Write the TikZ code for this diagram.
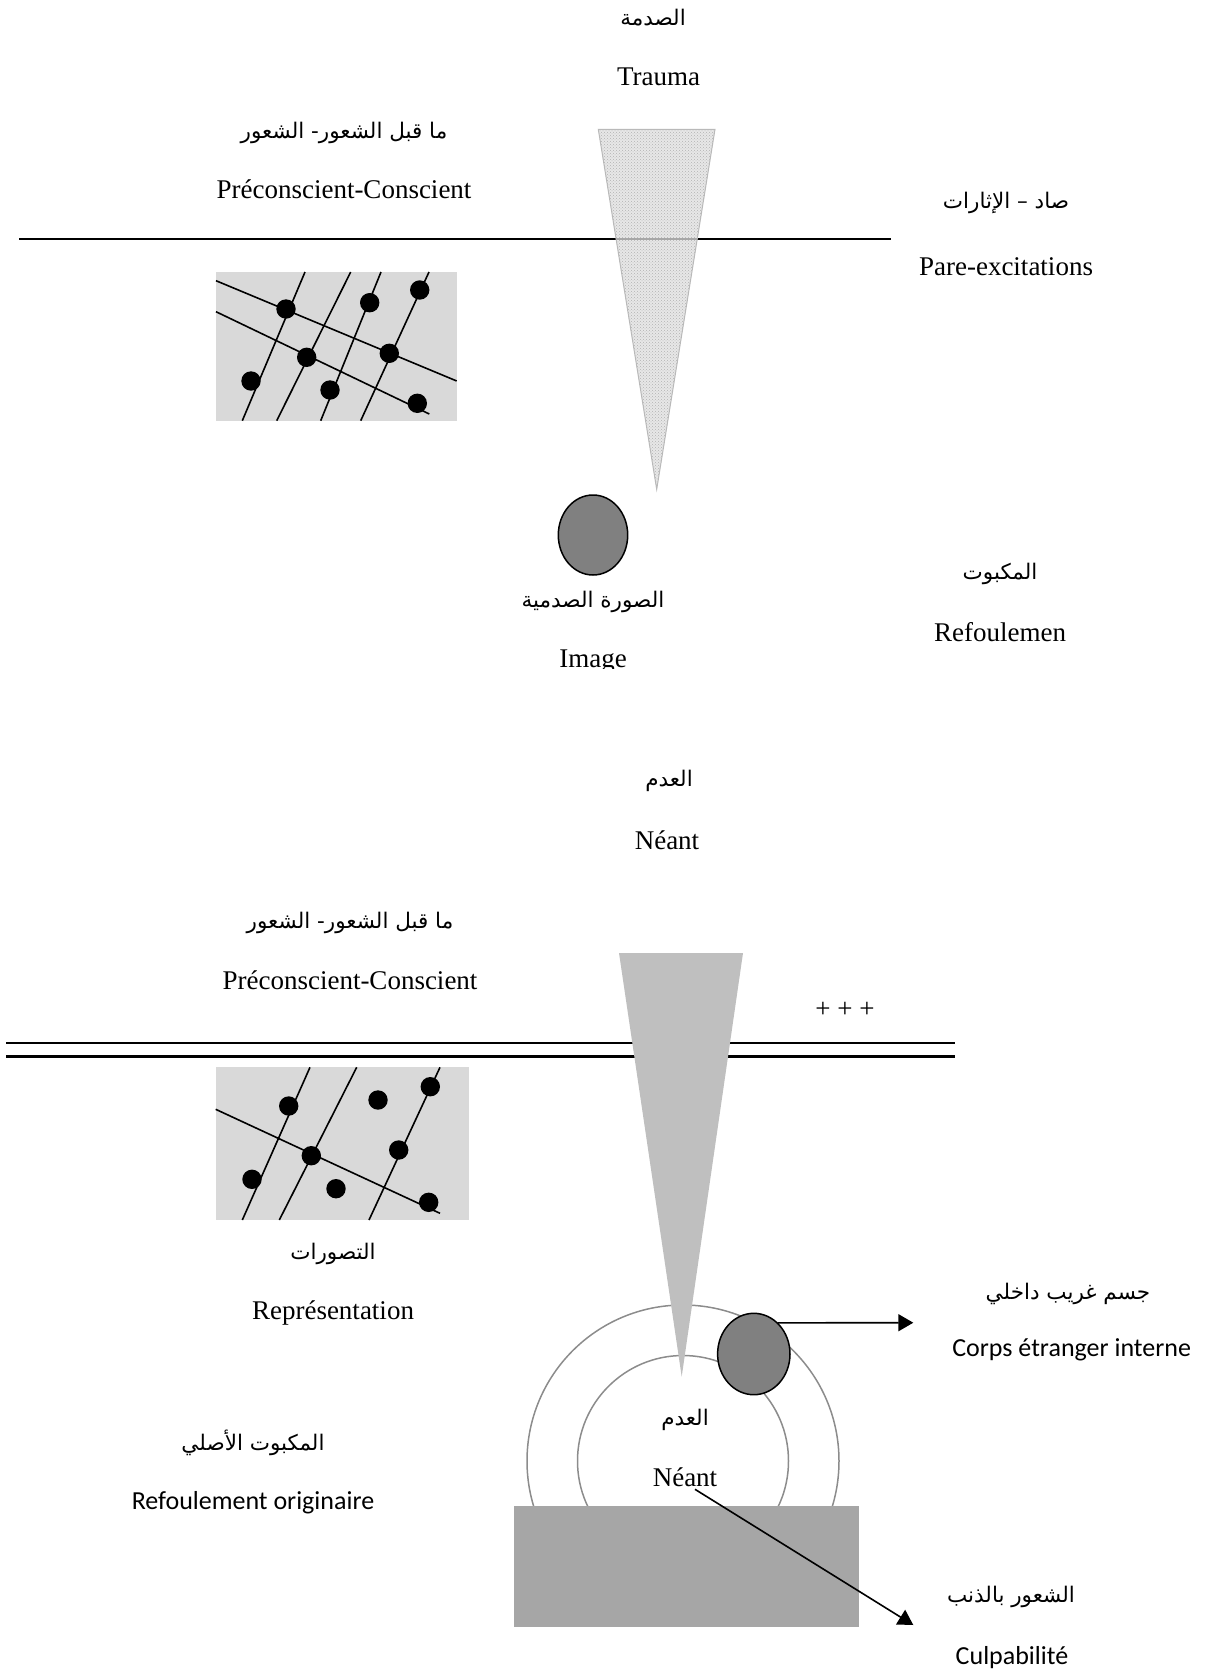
\documentclass[tikz,border=0pt]{standalone}
\usepackage{fontspec}
\setmainfont{Liberation Serif}
\newfontfamily\arabicfont[Script=Arabic]{DejaVu Sans}
\newfontfamily\calibfont{Carlito}
\usetikzlibrary{arrows.meta,patterns,shapes.geometric}
\TeXXeTstate=1
\newcommand{\artxt}[1]{{\arabicfont\fontsize{21.5}{26}\selectfont\beginR #1\endR}}
\definecolor{boxgray}{HTML}{D9D9D9}
\definecolor{midgray}{HTML}{808080}
\definecolor{rectgray}{HTML}{A6A6A6}
\definecolor{trigray}{HTML}{BFBFBF}
\definecolor{ringgray}{HTML}{8C8C8C}
\begin{document}
\begin{tikzpicture}[x=1pt,y=-1pt,
  lat/.style={font=\fontsize{27}{32}\selectfont, inner sep=0pt},
  sans/.style={font=\calibfont\fontsize{26}{31}\selectfont, inner sep=0pt},
  ara/.style={inner sep=0pt},
  blk/.style={line width=1.6pt, black},
  dot/.style={fill=black},
  arr/.style={line width=1.6pt, -{Triangle[length=15pt,width=17pt]}},
  ring/.style={draw=ringgray, line width=1.5pt}]
\useasboundingbox (0,0) rectangle (1205,1673);

% ---------- upper figure ----------
\node[ara] (t1a) at (653,18) {\artxt{الصدمة}};
\node[lat] (t1b) at (658.5,77) {Trauma};
\node[ara] (t2a) at (344,133) {\artxt{ما قبل الشعور- الشعور}};
\node[lat] (t2b) at (344,189) {Préconscient-Conscient};
\node[ara] (t3a) at (1006,203) {\artxt{صاد – الإثارات}};
\node[lat] (t3b) at (1006,267) {Pare-excitations};
\node[ara] (t4a) at (1000,574) {\artxt{المكبوت}};
\node[lat] (t4b) at (1000,632) {Refoulemen};

\draw[line width=1.6pt] (19,239) -- (891,239);

% representations box 1
\fill[boxgray] (216,272) rectangle (456.7,420.7);
\draw[blk] (216,280.7) -- (456.7,381);
\draw[blk] (216,311.7) -- (429.3,414);
\draw[blk] (305,272) -- (242.3,420.7);
\draw[blk] (350.7,272) -- (276.7,420.7);
\draw[blk] (381,272) -- (320.7,420.7);
\draw[blk] (429,272) -- (360.7,420.7);
\foreach \p in {(286,309),(369.7,302.7),(419.7,290),(306.7,357.3),(389.3,353.3),(251,381),(330,390),(417.3,403.3)}
  \fill[dot] \p circle (9.7);

% trauma wedge
\fill[gray!25, fill opacity=0.75] (598.3,129.3) -- (715,129.3) -- (656.7,489.3) -- cycle;
\fill[pattern=crosshatch dots, pattern color=gray!60] (598.3,129.3) -- (715,129.3) -- (656.7,489.3) -- cycle;
\draw[gray!55, line width=1pt] (598.3,129.3) -- (715,129.3) -- (656.7,489.3) -- cycle;

% traumatic image
\node[ellipse, draw=black, line width=1.5pt, fill=midgray, minimum width=69.4pt, minimum height=80pt, inner sep=0pt] (img) at (593,535) {};
\node[ara] (t5a) at (593,602) {\artxt{الصورة الصدمية}};
\begin{scope}
  \clip (450,620) rectangle (750,668);
  \node[lat] (t5b) at (593,662) {Image};
\end{scope}

% ---------- lower figure ----------
\node[ara] (t6a) at (669,781) {\artxt{العدم}};
\node[lat] (t6b) at (667,840) {Néant};
\node[ara] (t7a) at (350,923) {\artxt{ما قبل الشعور- الشعور}};
\node[lat] (t7b) at (350,980) {Préconscient-Conscient};
\node[lat] (plus) at (845,1010) {+ + +};

\draw[line width=2.3pt] (6,1043) -- (955,1043);
\draw[line width=2.3pt] (6,1056.5) -- (955,1056.5);

% representations box 2
\fill[boxgray] (215.7,1067.3) rectangle (469.3,1220);
\draw[blk] (215.7,1109.3) -- (440,1213.3);
\draw[blk] (310,1067.3) -- (242.3,1220);
\draw[blk] (356.7,1067.3) -- (279.3,1220);
\draw[blk] (440,1067.3) -- (369,1220);
\foreach \p in {(288.7,1106),(378,1100),(430.3,1086.7),(311.3,1155.7),(398.7,1150),(252,1179.3),(336,1188.7),(428.7,1202.3)}
  \fill[dot] \p circle (9.7);

\node[ara] (t8a) at (333,1254) {\artxt{التصورات}};
\node[lat] (t8b) at (333,1313) {Représentation};
\node[ara] (t9a) at (253,1443) {\artxt{المكبوت الأصلي}};
\node[sans] (t9b) at (253,1503) {Refoulement originaire};

% rings, base, wedge
\draw[ring] (683,1461) circle (156);
\draw[ring] (683,1461) circle (105.5);
\fill[rectgray] (514,1506) rectangle (858.7,1627.3);
\fill[trigray] (619,953) -- (743,953) -- (681.7,1376.7) -- cycle;

\node[ellipse, draw=black, line width=1.5pt, fill=midgray, minimum width=72.4pt, minimum height=81.4pt, inner sep=0pt] (fb) at (753.8,1354) {};

\node[ara] (t10a) at (685,1420) {\artxt{العدم}};
\node[lat] (t10b) at (685,1477) {Néant};

\coordinate (e1) at (913.3,1322.7);
\coordinate (s2) at (695,1489.3);
\coordinate (e2) at (913.3,1625);
\draw[arr] (fb.52) -- (e1);
\draw[arr] (s2) -- (e2);

\node[ara] (t11a) at (1068,1294) {\artxt{جسم غريب داخلي}};
\node[sans] (t11b) at (1071.6,1350) {Corps étranger interne};
\node[ara] (t12a) at (1011,1597) {\artxt{الشعور بالذنب}};
\node[sans, anchor=base] (t12b) at (1012,1664) {Culpabilité};
\end{tikzpicture}
\end{document}
